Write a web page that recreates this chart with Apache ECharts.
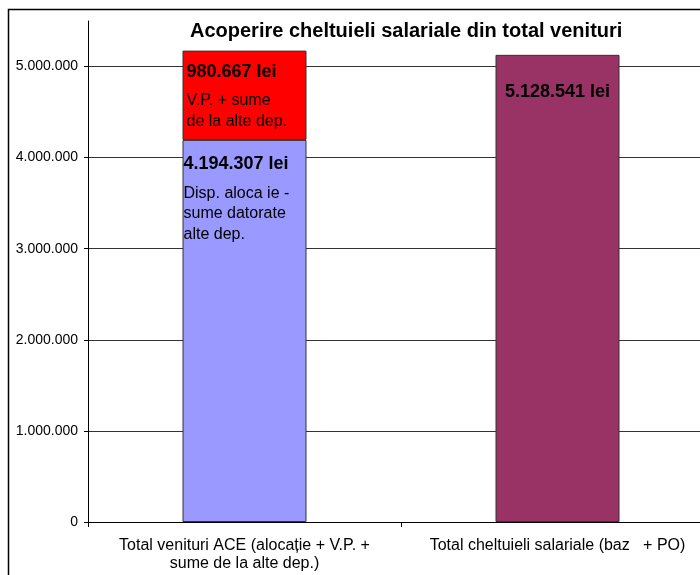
<!DOCTYPE html>
<html>
<head>
<meta charset="utf-8">
<script src="https://cdn.jsdelivr.net/npm/echarts@6/dist/echarts.min.js"></script>
<style>
  html, body { margin: 0; padding: 0; background: #fff; overflow: hidden; }
  #chart { width: 714px; height: 575px; }
</style>
</head>
<body>
<div id="chart"></div>
<script>
// the plot area runs past the right edge of the 700px window, as in the original
const categories = ['Total venituri ACE (alocație + V.P. +\nsume de la alte dep.)', 'Total cheltuieli salariale (baz   + PO)'];
const alocatieValues = [4194307, null];
const sumeAlteValues = [980667, null];
const cheltuieliValues = [null, 5128541];
const alocatieText = ['Disp. aloca ie -', 'sume datorate', 'alte dep.'];
const sumeAlteText = ['V.P. + sume', 'de la alte dep.'];
const yTicks = [0, 1000000, 2000000, 3000000, 4000000, 5000000];

const FONT = '"Liberation Sans", Arial, sans-serif';
const fmt = v => String(v).replace(/\B(?=(\d{3})+(?!\d))/g, '.');

const richStyles = {
  b: { fontFamily: FONT, fontSize: 18, fontWeight: 'bold', color: '#000', lineHeight: 22 },
  s: { fontSize: 6, lineHeight: 8 },
  n: { fontFamily: FONT, fontSize: 16, color: '#000', lineHeight: 20.5 }
};

const chart = echarts.init(document.getElementById('chart'));
const option = {
  animation: false,
  backgroundColor: '#fff',
  title: {
    text: 'Acoperire cheltuieli salariale din total venituri',
    left: 190,
    top: 21,
    padding: 0,
    textStyle: { fontFamily: FONT, fontSize: 20, fontWeight: 'bold', color: '#000' }
  },
  graphic: [{
    type: 'rect',
    shape: { x: 8.5, y: 9.5, width: 800, height: 800 },
    style: { fill: 'none', stroke: '#000', lineWidth: 1.5 },
    silent: true
  }],
  grid: { left: 88, right: 0, top: 21, bottom: 53 },
  xAxis: {
    type: 'category',
    data: categories,
    axisLine: { lineStyle: { color: '#000', width: 1 } },
    axisTick: { show: true, length: 5, lineStyle: { color: '#000' } },
    axisLabel: { interval: 0, margin: 15, fontFamily: FONT, fontSize: 16, color: '#000', lineHeight: 18 }
  },
  yAxis: {
    type: 'value',
    min: 0,
    max: 5500000,
    interval: 1000000,
    axisLine: { show: true, lineStyle: { color: '#000', width: 1 } },
    axisTick: { show: true, length: 4, customValues: yTicks, lineStyle: { color: '#000' } },
    axisLabel: {
      customValues: yTicks,
      margin: 10,
      fontFamily: FONT,
      fontSize: 14,
      color: '#000',
      formatter: v => fmt(v)
    },
    splitLine: { show: true, showMinLine: false, lineStyle: { color: '#333', width: 1 } }
  },
  series: [
    {
      name: 'Alocatie',
      type: 'bar',
      stack: 'venituri',
      barWidth: 124,
      barGap: '-100%',
      data: alocatieValues,
      itemStyle: { color: '#9999FF', borderColor: '#333', borderWidth: 1 },
      label: {
        show: true,
        position: 'insideTopLeft',
        distance: 0,
        offset: [1, 13],
        align: 'left',
        formatter: p => '{b|' + fmt(p.value) + ' lei}\n{s| }\n' + alocatieText.map(t => '{n|' + t + '}').join('\n'),
        rich: richStyles
      }
    },
    {
      name: 'Sume alte dep.',
      type: 'bar',
      stack: 'venituri',
      barWidth: 124,
      barGap: '-100%',
      data: sumeAlteValues,
      itemStyle: { color: '#FF0000', borderColor: '#333', borderWidth: 1 },
      label: {
        show: true,
        position: 'insideTopLeft',
        distance: 0,
        offset: [4, 10],
        align: 'left',
        formatter: p => '{b|' + fmt(p.value) + ' lei}\n{s| }\n' + sumeAlteText.map(t => '{n|' + t + '}').join('\n'),
        rich: richStyles
      }
    },
    {
      name: 'Cheltuieli',
      type: 'bar',
      barWidth: 124,
      barGap: '-100%',
      data: cheltuieliValues,
      itemStyle: { color: '#993366', borderColor: '#333', borderWidth: 1 },
      label: {
        show: true,
        position: 'insideTop',
        distance: 0,
        offset: [0, 26],
        formatter: p => '{b|' + fmt(p.value) + ' lei}',
        rich: richStyles
      }
    }
  ]
};
chart.setOption(option);
</script>
</body>
</html>
